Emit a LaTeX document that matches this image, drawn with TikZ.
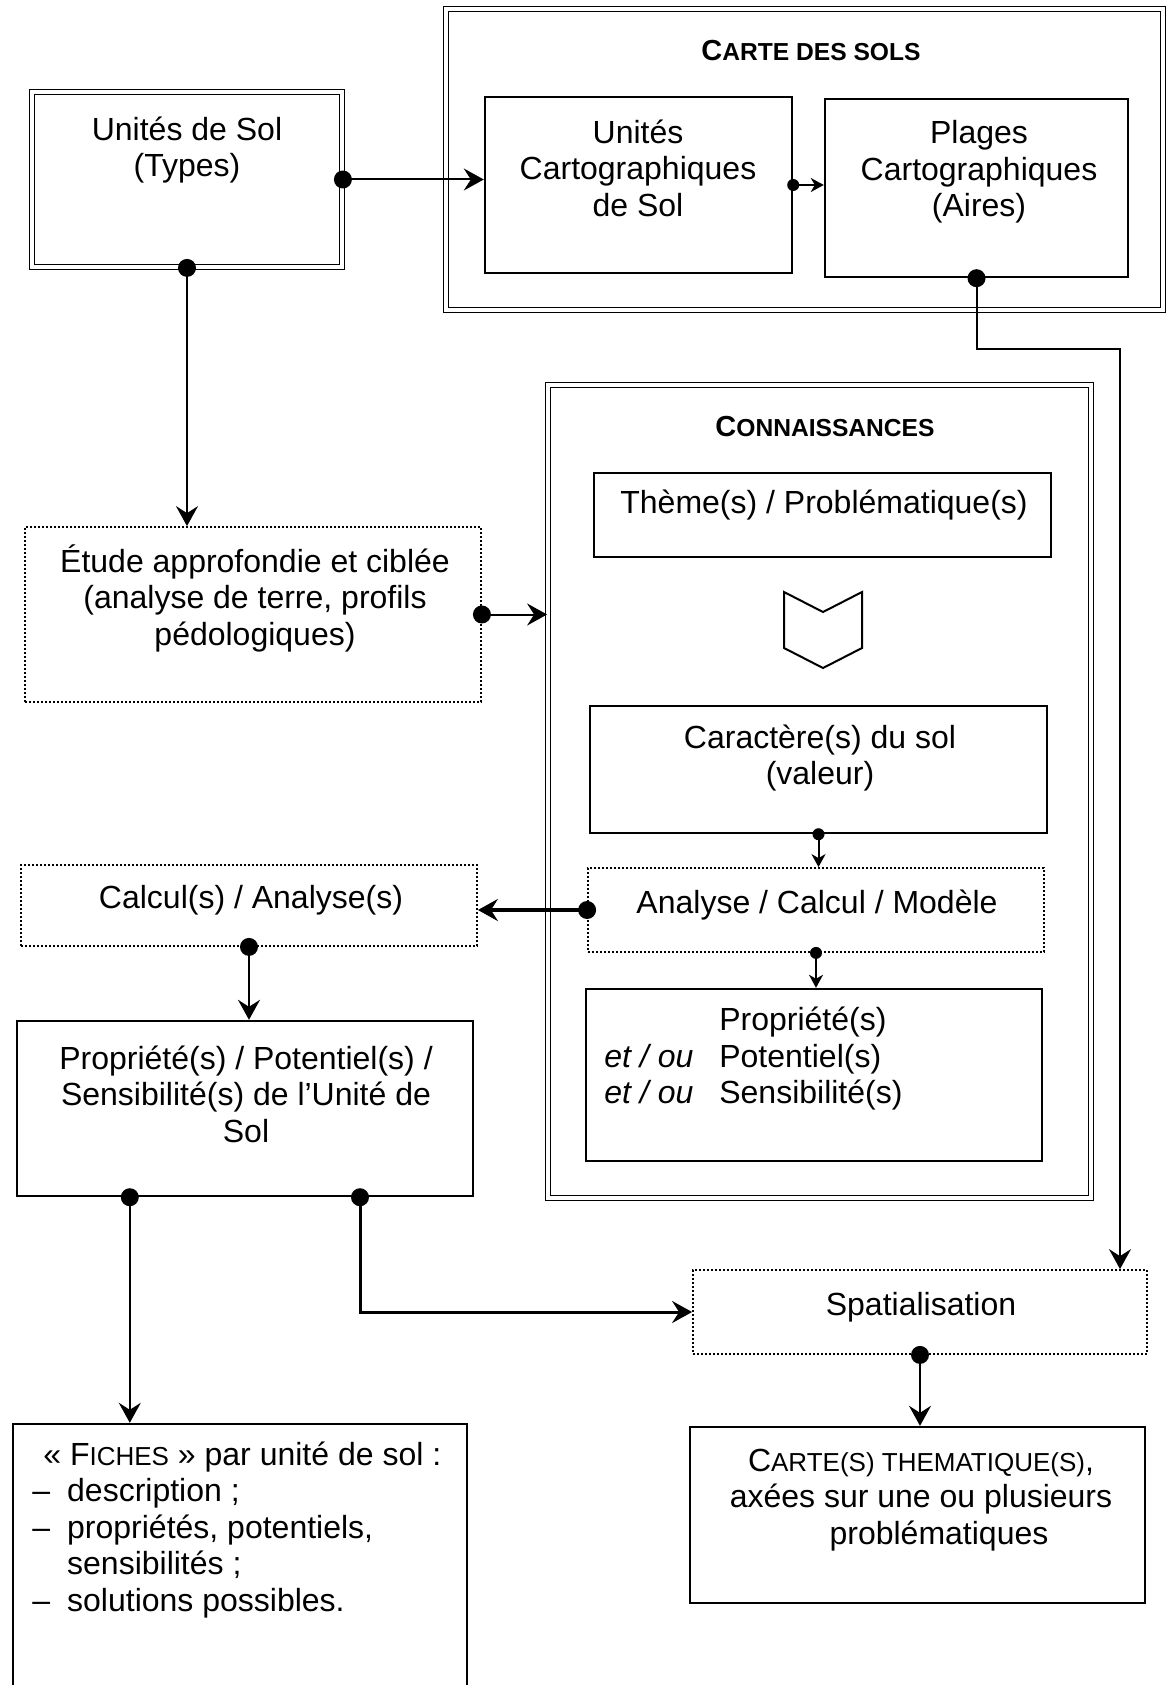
\documentclass[tikz,border=0pt]{standalone}
\usepackage{fontspec}
\setmainfont{Liberation Sans}
\usetikzlibrary{arrows.meta}
\newcommand{\pc}[1]{{\fontsize{13}{18.25}\selectfont #1}}
\newcommand{\pcb}[1]{{\fontsize{12.3}{14}\selectfont #1}}

\begin{document}
\begin{tikzpicture}[x=0.5pt, y=-0.5pt,
  font=\fontsize{16}{18.25}\selectfont,
  cadre/.style={draw, line width=1.2pt, inner sep=0pt},
  cadredbl/.style={draw, double, double distance=1.6pt, line width=0.9pt, inner sep=0pt},
  cadrept/.style={draw, line width=0.9pt, dash pattern=on 0.9pt off 1.1pt, inner sep=0pt},
  texte/.style={align=center, inner sep=0pt},
  titre/.style={font=\bfseries\fontsize{14.5}{16}\selectfont, inner sep=0pt},
  fleche/.style={line width=1pt, -{Stealth[length=10pt, width=11pt, inset=3.5pt]}},
  petite/.style={line width=1pt, -{Stealth[length=6.5pt, width=7pt, inset=2pt]}}]
\useasboundingbox (0,0) rectangle (1166,1685);

\node[cadredbl, minimum width=155pt, minimum height=87.5pt] (us) at (187,179.5) {};
\node[texte] (us-t) at (187,150) {Unités de Sol\\(Types)};

\node[cadredbl, minimum width=358.5pt, minimum height=150.5pt] (carte) at (804.5,159.5) {};
\node[titre] (carte-t) at (811,51) {C\pcb{ARTE DES SOLS}};
\node[cadre, minimum width=153.5pt, minimum height=88pt] (ucs) at (638.5,185) {};
\node[texte] (ucs-t) at (638,168) {Unités\\Cartographiques\\de Sol};
\node[cadre, minimum width=151.5pt, minimum height=89pt] (plages) at (976.5,188) {};
\node[texte] (plages-t) at (979,172) {Plages\\Cartographiques\\(Aires)};

\node[cadrept, minimum width=228pt, minimum height=87.5pt] (etude) at (253,614.5) {};
\node[texte] (etude-t) at (255,598) {Étude approfondie et ciblée\\(analyse de terre, profils\\pédologiques)};

\node[cadredbl, minimum width=271.5pt, minimum height=406.5pt] (conn) at (819.5,791.5) {};
\node[titre] (conn-t) at (825,427) {C\pcb{ONNAISSANCES}};
\node[cadre, minimum width=228.5pt, minimum height=42pt] (theme) at (822.5,515) {};
\node[texte] (theme-t) at (824,505) {Thème(s) / Problématique(s)};
\draw[line width=1pt] (784,592) -- (823,612) -- (862,592) -- (862,648) -- (823,668) -- (784,648) -- cycle;
\node[cadre, minimum width=228.5pt, minimum height=63.5pt] (carac) at (818.5,769.5) {};
\node[texte] (carac-t) at (820,758) {Caractère(s) du sol\\(valeur)};
\node[cadrept, minimum width=228pt, minimum height=42pt] (acm) at (816,910) {};
\node[texte] (acm-t) at (817,905) {Analyse / Calcul / Modèle};
\node[cadre, minimum width=228pt, minimum height=86pt] (prop) at (814,1075) {};
\node[anchor=west, inner sep=0pt] (prop-t) at (604,1060) {\begin{tabular}{@{}l@{\hspace{13pt}}l@{}}
 & Propriété(s)\\
\textit{et / ou} & Potentiel(s)\\
\textit{et / ou} & Sensibilité(s)
\end{tabular}};

\node[cadrept, minimum width=228pt, minimum height=40.5pt] (calc) at (249,905.5) {};
\node[texte] (calc-t) at (251,900) {Calcul(s) / Analyse(s)};
\node[cadre, minimum width=228pt, minimum height=87.5pt] (pus) at (245,1108.5) {};
\node[texte] (pus-t) at (246,1094) {Propriété(s) / Potentiel(s) /\\Sensibilité(s) de l’Unité de\\Sol};

\node[cadrept, minimum width=227pt, minimum height=42pt] (spat) at (920,1312) {};
\node[texte] (spat-t) at (921,1307) {Spatialisation};
\node[cadre, minimum width=227.5pt, minimum height=88pt] (ct) at (917.5,1515) {};
\node[texte] (ct-t) at (921,1500) {C\pc{ARTE(S) THEMATIQUE(S)},\\axées sur une ou plusieurs\\\hspace*{18pt}problématiques};

\node[cadre, minimum width=227pt, minimum height=138pt] (fiches) at (240,1562) {};
\node[anchor=west, inner sep=0pt] (fiches-t) at (32,1531) {\begin{tabular}{@{}l@{\hspace{8.5pt}}l@{}}
\multicolumn{2}{@{}l@{}}{\hspace{5.5pt}« F\pc{ICHES} » par unité de sol :}\\
– & description ;\\
– & propriétés, potentiels,\\
 & sensibilités ;\\
– & solutions possibles.
\end{tabular}};

\coordinate (coude) at (1120,349);
\coordinate (pg) at ([xshift=57pt]pus.south west);
\coordinate (pd) at ([xshift=57.5pt]pus.south);

\draw[fleche] (us.east) -- (us.east -| ucs.west);
\draw[petite] (ucs.east) -- (ucs.east -| plages.west);
\draw[fleche] (plages.south) |- (coude) -- (coude |- spat.north);
\draw[fleche] (us.south) -- (us.south |- etude.north);
\draw[fleche] (etude.east) -- (etude.east -| conn.west);
\draw[petite] (carac.south) -- (carac.south |- acm.north);
\draw[fleche, line width=2pt] (acm.west) -- (acm.west -| calc.east);
\draw[petite] (acm.south) -- (acm.south |- prop.north);
\draw[fleche] (calc.south) -- (calc.south |- pus.north);
\draw[fleche] (pg) -- (pg |- fiches.north);
\draw[fleche, line width=1.5pt] (pd) |- (spat.west);
\draw[fleche] (spat.south) -- (spat.south |- ct.north);

\foreach \p in {us.east, us.south, plages.south, etude.east, acm.west, calc.south, pg, pd, spat.south}
  \fill (\p) circle[radius=4.5pt];
\foreach \p in {ucs.east, carac.south, acm.south}
  \fill (\p) circle[radius=3pt];
\end{tikzpicture}
\end{document}
